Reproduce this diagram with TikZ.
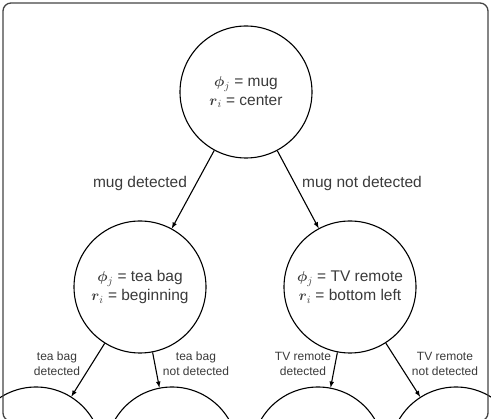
\documentclass[tikz,border=0pt]{standalone}
\usepackage{amsmath,amssymb}
\usepackage{fontspec}
\setmainfont{Liberation Sans}
\usepackage{xcolor}
\usepackage{tikz}
\usetikzlibrary{arrows,backgrounds}
\usetikzlibrary{positioning}
\pgfdeclarelayer{edgelayer}
\pgfdeclarelayer{nodelayer}
\pgfsetlayers{background,edgelayer,nodelayer,main}
\definecolor{inkgrey}{HTML}{3A3A3A}
\definecolor{framegrey}{HTML}{444444}
\tikzstyle{qn}=[shape=circle,draw=black,line width=1.1pt,minimum size=132pt,inner sep=0pt,align=center,text=inkgrey,font=\fontsize{15.5}{19.5}\selectfont]
\tikzstyle{diredge}=[-latex,line width=1.1pt,draw=black]
\tikzstyle{lbl}=[text=inkgrey,font=\fontsize{15.5}{19}\selectfont,inner sep=0pt]
\tikzstyle{sl}=[text=inkgrey,font=\fontsize{12}{15}\selectfont,align=center,inner sep=0pt]
\newcommand{\obj}{$\boldsymbol{\phi}_j$}
\newcommand{\reg}{$\boldsymbol{r}_i$}

\begin{document}
\begin{tikzpicture}[x=1pt,y=-1pt]
	\useasboundingbox (0,0) rectangle (491,419);
	\draw [framegrey,line width=1.3pt,rounded corners=8pt] (3,3) rectangle (488,421);
	\begin{pgfonlayer}{nodelayer}
		\node [style=qn] (q0) at (246, 92) {\obj{} = mug\\\reg{} = center};
		\node [style=qn] (q1) at (140, 287) {\obj{} = tea bag\\\reg{} = beginning};
		\node [style=qn] (q2) at (350, 287) {\obj{} = TV remote\\\reg{} = bottom left};
		\node [style=qn] (q3) at (36, 453) {};
		\node [style=qn] (q4) at (172, 453) {};
		\node [style=qn] (q5) at (318, 453) {};
		\node [style=qn] (q6) at (456, 453) {};
		\node [style=lbl] (l1) at (140, 183) {mug detected};
		\node [style=lbl] (l2) at (362, 183) {mug not detected};
		\node [style=sl] (l3) at (57, 364) {tea bag\\detected};
		\node [style=sl] (l4) at (196, 364) {tea bag\\not detected};
		\node [style=sl] (l5) at (303, 364) {TV remote\\detected};
		\node [style=sl] (l6) at (445, 364) {TV remote\\not detected};
	\end{pgfonlayer}
	\begin{pgfonlayer}{edgelayer}
		\draw [style=diredge] (q0) to (q1);
		\draw [style=diredge] (q0) to (q2);
		\draw [style=diredge] (q1) to (q3);
		\draw [style=diredge] (q1) to (q4);
		\draw [style=diredge] (q2) to (q5);
		\draw [style=diredge] (q2) to (q6);
	\end{pgfonlayer}
\end{tikzpicture}
\end{document}
